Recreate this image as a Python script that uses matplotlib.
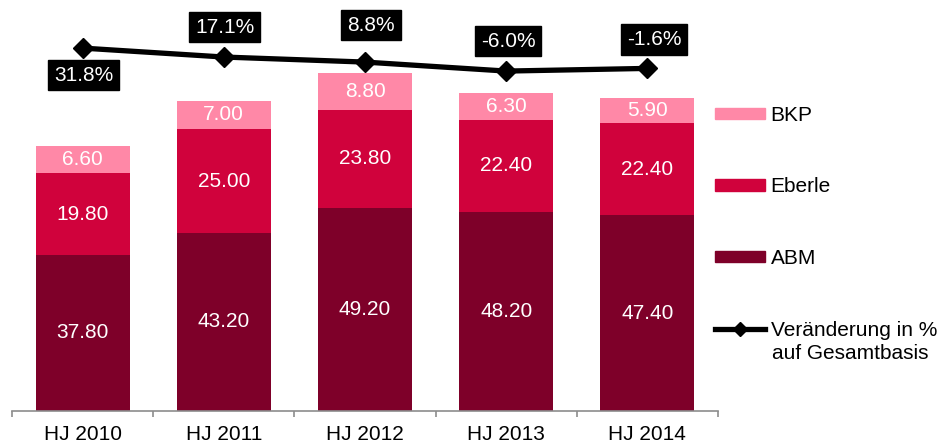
import numpy as np
import matplotlib
matplotlib.use('Agg')
import matplotlib.pyplot as plt
from matplotlib.patches import Patch
from matplotlib.lines import Line2D

plt.rcParams['font.family'] = ['Liberation Sans', 'DejaVu Sans']

kategorien = ['HJ 2010', 'HJ 2011', 'HJ 2012', 'HJ 2013', 'HJ 2014']
abm = [37.80, 43.20, 49.20, 48.20, 47.40]
eberle = [19.80, 25.00, 23.80, 22.40, 22.40]
bkp = [6.60, 7.00, 8.80, 6.30, 5.90]
veraenderung = [31.8, 17.1, 8.8, -6.0, -1.6]

# Versatz der Prozent-Labels in Pixeln (dx, dy)
label_offset = [(1, -27), (1, 30), (6, 37), (2, 30), (7, 29)]

c_abm = '#7E0029'
c_eberle = '#D0023C'
c_bkp = '#FF88A7'
fs = 15

fig = plt.figure(figsize=(9.43, 4.44), dpi=100)
ax = fig.add_axes([12 / 943, 33 / 444, 706 / 943, 391 / 444])

x = np.arange(len(kategorien))
w = 0.665
b1 = ax.bar(x, abm, w, color=c_abm, label='ABM')
b2 = ax.bar(x, eberle, w, bottom=abm, color=c_eberle, label='Eberle')
b3 = ax.bar(x, bkp, w, bottom=np.add(abm, eberle), color=c_bkp, label='BKP')
for bars in (b1, b2, b3):
    ax.bar_label(bars, labels=[f'{v.get_height():.2f}' for v in bars],
                 label_type='center', color='white', fontsize=fs)

ax.set_xlim(-0.5, len(kategorien) - 0.5)
ax.set_ylim(0, 94.7)
ax.set_yticks([])
for s in ('left', 'right', 'top'):
    ax.spines[s].set_visible(False)
ax.spines['bottom'].set_color('#8c8c8c')
ax.spines['bottom'].set_linewidth(1.2)
ax.set_xticks(x)
ax.set_xticklabels(kategorien, fontsize=fs)
ax.tick_params(axis='x', which='major', length=0, pad=10)
ax.set_xticks(np.arange(len(kategorien) + 1) - 0.5, minor=True)
ax.tick_params(axis='x', which='minor', length=4, color='#8c8c8c', width=1.2)

ax2 = ax.twinx()
ax2.set_ylim(-565, 78)
ax2.axis('off')
ax2.plot(x, veraenderung, color='black', lw=3.8, marker='D', ms=10.5)
for xi, v, off in zip(x, veraenderung, label_offset):
    ax2.annotate(f'{v:.1f}%', (xi, v), xytext=off, textcoords='offset pixels',
                 ha='center', va='center', color='white', fontsize=fs,
                 bbox=dict(boxstyle='square,pad=0.28', fc='black', ec='black'))

handles = [Patch(color=c_bkp), Patch(color=c_eberle), Patch(color=c_abm),
           Line2D([0], [0], color='black', lw=3.8, marker='D', ms=7)]
labels = ['BKP', 'Eberle', 'ABM', 'Veränderung in %']
fig.legend(handles, labels, loc='upper left', bbox_to_anchor=(715 / 943, 1 - 106 / 444),
           frameon=False, fontsize=fs, handlelength=2.42, handleheight=0.47,
           handletextpad=0.25, labelspacing=2.52, borderpad=0, borderaxespad=0)
fig.text(772 / 943, 1 - 353 / 444, 'auf Gesamtbasis', fontsize=fs, va='center', ha='left')

fig.savefig('out.png', dpi=100)
